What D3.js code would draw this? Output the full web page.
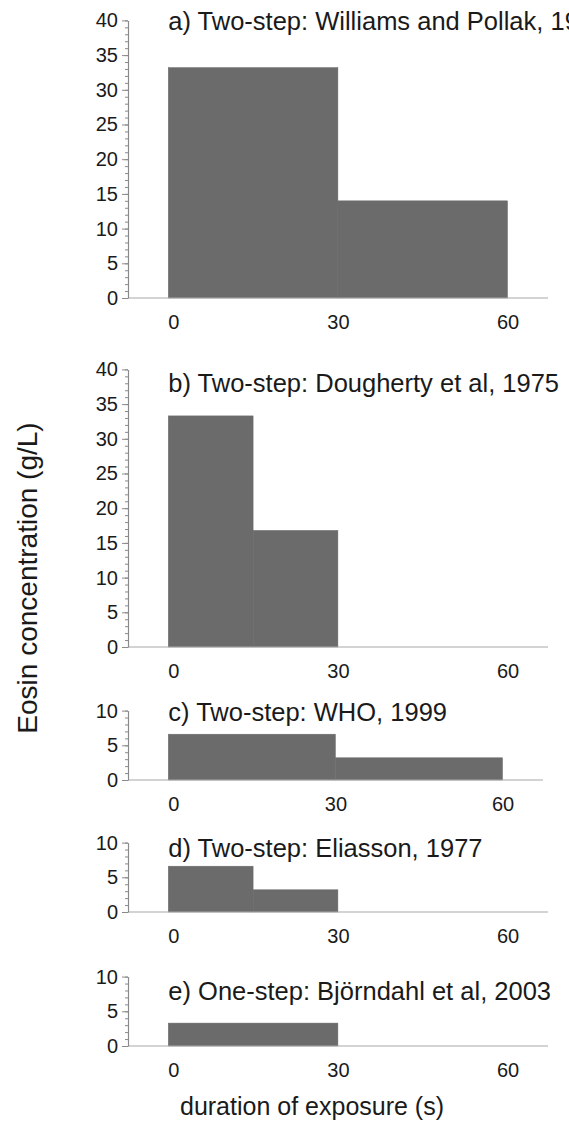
<!DOCTYPE html>
<html>
<head>
<meta charset="utf-8">
<script src="https://cdn.jsdelivr.net/npm/d3@7"></script>
<style>
  html, body { margin: 0; padding: 0; background: #fff; }
  svg { display: block; }
  text { font-family: "Liberation Sans", Arial, sans-serif; fill: #1a1a1a; }
</style>
</head>
<body>
<script>
// ---------------- data ----------------
const panelTitles = [
  "a) Two-step: Williams and Pollak, 1950",
  "b) Two-step: Dougherty et al, 1975",
  "c) Two-step: WHO, 1999",
  "d) Two-step: Eliasson, 1977",
  "e) One-step: Björndahl et al, 2003"
];
const yMax = [40, 40, 10, 10, 10];
const stepStarts = [[0, 30], [0, 15], [0, 30], [0, 15], [0]];
const stepEnds   = [[30, 60], [15, 30], [30, 60], [15, 30], [30]];
const stepValues = [[33.2, 14.0], [33.3, 16.8], [6.6, 3.2], [6.6, 3.2], [3.3]];
const xTickValues = [0, 30, 60];
const xTickLabels = ["0", "30", "60"];
const yMajorStep = 5;
const yMinorStep = 1;
const yAxisTitle = "Eosin concentration (g/L)";
const xAxisTitle = "duration of exposure (s)";

// ---------------- layout ----------------
const W = 569, H = 1139;
const pxPerUnit = 6.94;
const axisX = 128;
const x0px = 168.3;
const baseY = [298, 647, 780, 912, 1046];
const titleY = [30, 392, 721, 857, 1000];
const x60px = [507.5, 507.5, 502.5, 507.5, 507.5];
const xAxisEnd = [548, 548, 543, 548, 548];

const svg = d3.select("body").append("svg")
  .attr("width", W).attr("height", H);

panelTitles.forEach((title, i) => {
  const g = svg.append("g");
  const y = d3.scaleLinear()
    .domain([0, yMax[i]])
    .range([baseY[i], baseY[i] - yMax[i] * pxPerUnit]);
  const x = d3.scaleLinear().domain([0, 60]).range([x0px, x60px[i]]);

  const bars = stepValues[i].map((v, k) => ({ s: stepStarts[i][k], e: stepEnds[i][k], v }));

  g.selectAll("rect.bar").data(bars).enter().append("rect")
    .attr("class", "bar")
    .attr("x", d => x(d.s))
    .attr("y", d => y(d.v))
    .attr("width", d => x(d.e) - x(d.s))
    .attr("height", d => y(0) - y(d.v))
    .attr("fill", "#6b6b6b")
    .attr("stroke", "#6b6b6b")
    .attr("stroke-width", 0.5);

  // x axis line
  g.append("line")
    .attr("x1", axisX).attr("x2", xAxisEnd[i])
    .attr("y1", baseY[i]).attr("y2", baseY[i])
    .attr("stroke", "#a8a8a8").attr("stroke-width", 1.2);

  // x tick labels
  const xa = d3.axisBottom(x).tickValues(xTickValues)
    .tickFormat((d, k) => xTickLabels[k]).tickSize(0).tickPadding(17);
  const xg = g.append("g").attr("transform", `translate(0,${baseY[i]})`).call(xa);
  xg.select(".domain").remove();
  xg.selectAll("text").attr("font-size", 20)
    .attr("font-family", "Liberation Sans, Arial, sans-serif")
    .attr("fill", "#1a1a1a")
    .attr("dx", d => d === 0 ? 5 : 0);

  // y axis: minor ticks
  const minors = d3.range(0, yMax[i] + 0.001, yMinorStep);
  const majors = d3.range(0, yMax[i] + 0.001, yMajorStep);
  const ym = d3.axisLeft(y).tickValues(minors).tickSize(3).tickFormat("").tickSizeOuter(0);
  const ymg = g.append("g").attr("transform", `translate(${axisX},0)`).call(ym);
  ymg.selectAll("line").attr("stroke", "#8a8a8a");
  ymg.select(".domain").attr("stroke", "#8a8a8a").attr("stroke-width", 1.2);

  const yM = d3.axisLeft(y).tickValues(majors).tickSize(6).tickPadding(4).tickSizeOuter(0);
  const yMg = g.append("g").attr("transform", `translate(${axisX},0)`).call(yM);
  yMg.select(".domain").remove();
  yMg.selectAll("line").attr("stroke", "#8a8a8a");
  yMg.selectAll("text").attr("font-size", 20)
    .attr("font-family", "Liberation Sans, Arial, sans-serif")
    .attr("fill", "#1a1a1a");

  // panel title
  g.append("text")
    .attr("x", x0px).attr("y", titleY[i])
    .attr("font-size", 25.5)
    .text(title);
});

// axis titles
svg.append("text")
  .attr("transform", `translate(37,578) rotate(-90)`)
  .attr("text-anchor", "middle")
  .attr("font-size", 28)
  .text(yAxisTitle);

svg.append("text")
  .attr("x", 312).attr("y", 1115)
  .attr("text-anchor", "middle")
  .attr("font-size", 25)
  .text(xAxisTitle);
</script>
</body>
</html>
